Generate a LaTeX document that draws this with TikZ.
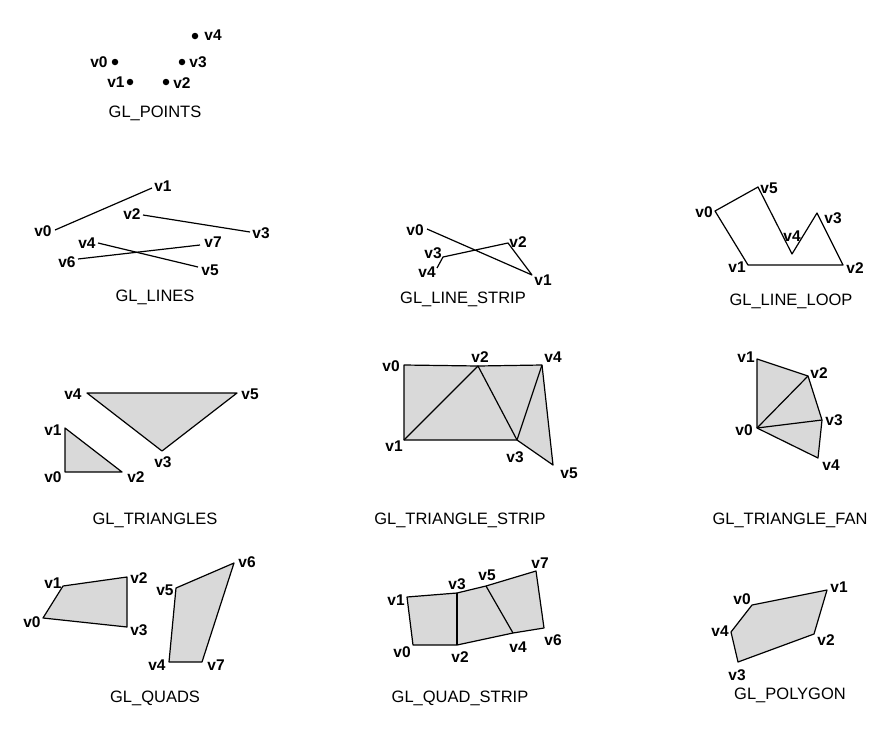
\documentclass[tikz,border=0pt]{standalone}
\usepackage{fontspec}
\setmainfont{Liberation Sans}
\begin{document}
\begin{tikzpicture}[x=1pt,y=-1pt,
  edge/.style={line width=1.2pt, line join=round},
  face/.style={fill=black!15},
  lbl/.style={font=\fontsize{15.5}{16}\selectfont\bfseries, inner sep=0pt},
  ttl/.style={font=\fontsize{16.5}{18}\selectfont, inner sep=0pt},
  pdot/.style={circle, fill=black, inner sep=0pt, minimum size=6.5pt}]
\useasboundingbox[fill=white] (0,0) rectangle (883,734);
% ---------- GL_POINTS ----------
\node[pdot] (a0) at (115,62) {};
\node[pdot] (a1) at (130,82) {};
\node[pdot] (a2) at (166,82) {};
\node[pdot] (a3) at (182,62) {};
\node[pdot] (a4) at (195,36) {};
\node[lbl] (la0) at (99,62) {v0};
\node[lbl] (la1) at (116,82) {v1};
\node[lbl] (la2) at (182,83) {v2};
\node[lbl] (la3) at (198,62) {v3};
\node[lbl] (la4) at (213,35) {v4};
\node[ttl] (ta) at (155,113) {GL\_POINTS};
% ---------- GL_LINES ----------
\coordinate (b0) at (55,230);
\coordinate (b1) at (152,188);
\coordinate (b2) at (143,215);
\coordinate (b3) at (250,232);
\coordinate (b4) at (98,243);
\coordinate (b5) at (198,267);
\coordinate (b6) at (78,259);
\coordinate (b7) at (200,245);
\draw[edge] (b0) -- (b1);
\draw[edge] (b2) -- (b3);
\draw[edge] (b4) -- (b5);
\draw[edge] (b6) -- (b7);
\node[lbl] (lb0) at (43,231) {v0};
\node[lbl] (lb1) at (163,186) {v1};
\node[lbl] (lb2) at (132,214) {v2};
\node[lbl] (lb3) at (261,233) {v3};
\node[lbl] (lb4) at (87,243) {v4};
\node[lbl] (lb5) at (210,270) {v5};
\node[lbl] (lb6) at (67,262) {v6};
\node[lbl] (lb7) at (213,242) {v7};
\node[ttl] (tb) at (155,297) {GL\_LINES};
% ---------- GL_LINE_STRIP ----------
\coordinate (c0) at (427,229);
\coordinate (c1) at (532,275);
\coordinate (c2) at (508,243);
\coordinate (c3) at (443,257);
\coordinate (c4) at (437,268);
\draw[edge] (c0) -- (c1) -- (c2) -- (c3) -- (c4);
\node[lbl] (lc0) at (415,230) {v0};
\node[lbl] (lc1) at (543,280) {v1};
\node[lbl] (lc2) at (518,242) {v2};
\node[lbl] (lc3) at (433,253) {v3};
\node[lbl] (lc4) at (427,272) {v4};
\node[ttl] (tc) at (463,299) {GL\_LINE\_STRIP};
% ---------- GL_LINE_LOOP ----------
\coordinate (d0) at (715,211);
\coordinate (d1) at (748,265);
\coordinate (d2) at (843,265);
\coordinate (d3) at (817,213);
\coordinate (d4) at (792,254);
\coordinate (d5) at (758,187);
\draw[edge] (d0) -- (d1) -- (d2) -- (d3) -- (d4) -- (d5) -- cycle;
\node[lbl] (ld0) at (704,212) {v0};
\node[lbl] (ld1) at (737,267) {v1};
\node[lbl] (ld2) at (855,268) {v2};
\node[lbl] (ld3) at (833,218) {v3};
\node[lbl] (ld4) at (792,236) {v4};
\node[lbl] (ld5) at (769,188) {v5};
\node[ttl] (td) at (791,301) {GL\_LINE\_LOOP};
% ---------- GL_TRIANGLES ----------
\coordinate (e0) at (65,472);
\coordinate (e1) at (65,428);
\coordinate (e2) at (122,472);
\coordinate (e3) at (162,451);
\coordinate (e4) at (87,393);
\coordinate (e5) at (237,393);
\draw[edge, face] (e0) -- (e1) -- (e2) -- cycle;
\draw[edge, face] (e4) -- (e5) -- (e3) -- cycle;
\node[lbl] (le0) at (53,477) {v0};
\node[lbl] (le1) at (53,430) {v1};
\node[lbl] (le2) at (136,477) {v2};
\node[lbl] (le3) at (163,462) {v3};
\node[lbl] (le4) at (73,394) {v4};
\node[lbl] (le5) at (250,394) {v5};
\node[ttl] (te) at (155,520) {GL\_TRIANGLES};
% ---------- GL_TRIANGLE_STRIP ----------
\coordinate (f0) at (404,365);
\coordinate (f1) at (404,440);
\coordinate (f2) at (478,366);
\coordinate (f3) at (517,440);
\coordinate (f4) at (542,365);
\coordinate (f5) at (553,465);
\fill[face] (f0) -- (f2) -- (f4) -- (f5) -- (f3) -- (f1) -- cycle;
\draw[edge] (f0) -- (f2) -- (f4) -- (f5) -- (f3) -- (f1) -- cycle;
\draw[edge] (f1) -- (f2) -- (f3) -- (f4);
\node[lbl] (lf0) at (391,366) {v0};
\node[lbl] (lf1) at (394,446) {v1};
\node[lbl] (lf2) at (480,357) {v2};
\node[lbl] (lf3) at (515,457) {v3};
\node[lbl] (lf4) at (553,357) {v4};
\node[lbl] (lf5) at (569,473) {v5};
\node[ttl] (tf) at (460,520) {GL\_TRIANGLE\_STRIP};
% ---------- GL_TRIANGLE_FAN ----------
\coordinate (g0) at (757,428);
\coordinate (g1) at (757,359);
\coordinate (g2) at (808,376);
\coordinate (g3) at (822,420);
\coordinate (g4) at (818,458);
\fill[face] (g0) -- (g1) -- (g2) -- (g3) -- (g4) -- cycle;
\draw[edge] (g0) -- (g1) -- (g2) -- (g3) -- (g4) -- cycle;
\draw[edge] (g0) -- (g2);
\draw[edge] (g0) -- (g3);
\node[lbl] (lg0) at (744,430) {v0};
\node[lbl] (lg1) at (746,357) {v1};
\node[lbl] (lg2) at (819,373) {v2};
\node[lbl] (lg3) at (834,420) {v3};
\node[lbl] (lg4) at (831,465) {v4};
\node[ttl] (tg) at (790,520) {GL\_TRIANGLE\_FAN};
% ---------- GL_QUADS ----------
\coordinate (h0) at (43,618);
\coordinate (h1) at (63,586);
\coordinate (h2) at (127,577);
\coordinate (h3) at (127,627);
\coordinate (h4) at (169,662);
\coordinate (h5) at (176,588);
\coordinate (h6) at (234,563);
\coordinate (h7) at (202,662);
\draw[edge, face] (h0) -- (h1) -- (h2) -- (h3) -- cycle;
\draw[edge, face] (h4) -- (h5) -- (h6) -- (h7) -- cycle;
\node[lbl] (lh0) at (32,622) {v0};
\node[lbl] (lh1) at (53,583) {v1};
\node[lbl] (lh2) at (139,578) {v2};
\node[lbl] (lh3) at (139,630) {v3};
\node[lbl] (lh4) at (157,665) {v4};
\node[lbl] (lh5) at (165,590) {v5};
\node[lbl] (lh6) at (247,562) {v6};
\node[lbl] (lh7) at (216,665) {v7};
\node[ttl] (th) at (155,698) {GL\_QUADS};
% ---------- GL_QUAD_STRIP ----------
\coordinate (k0) at (413,645);
\coordinate (k1) at (407,597);
\coordinate (k2) at (457,645);
\coordinate (k3) at (457,593);
\coordinate (k4) at (513,633);
\coordinate (k5) at (486,586);
\coordinate (k6) at (544,628);
\coordinate (k7) at (536,571);
\fill[face] (k0) -- (k1) -- (k3) -- (k5) -- (k7) -- (k6) -- (k4) -- (k2) -- cycle;
\draw[edge] (k0) -- (k1) -- (k3) -- (k5) -- (k7) -- (k6) -- (k4) -- (k2) -- cycle;
\draw[edge] (k2) -- (k3);
\draw[edge] (k4) -- (k5);
\node[lbl] (lk0) at (402,652) {v0};
\node[lbl] (lk1) at (396,600) {v1};
\node[lbl] (lk2) at (460,657) {v2};
\node[lbl] (lk3) at (457,584) {v3};
\node[lbl] (lk4) at (518,647) {v4};
\node[lbl] (lk5) at (487,575) {v5};
\node[lbl] (lk6) at (553,640) {v6};
\node[lbl] (lk7) at (540,563) {v7};
\node[ttl] (tk) at (460,698) {GL\_QUAD\_STRIP};
% ---------- GL_POLYGON ----------
\coordinate (m0) at (752,605);
\coordinate (m1) at (827,590);
\coordinate (m2) at (814,634);
\coordinate (m3) at (738,662);
\coordinate (m4) at (731,632);
\draw[edge, face] (m0) -- (m1) -- (m2) -- (m3) -- (m4) -- cycle;
\node[lbl] (lm0) at (742,599) {v0};
\node[lbl] (lm1) at (839,587) {v1};
\node[lbl] (lm2) at (826,640) {v2};
\node[lbl] (lm3) at (737,675) {v3};
\node[lbl] (lm4) at (720,631) {v4};
\node[ttl] (tm) at (790,695) {GL\_POLYGON};
\end{tikzpicture}
\end{document}
